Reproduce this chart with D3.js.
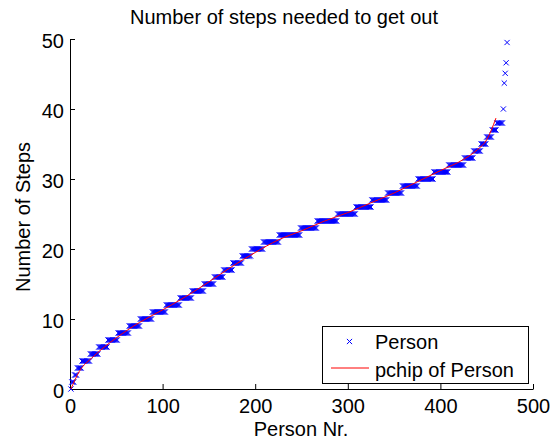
<!DOCTYPE html>
<html>
<head>
<meta charset="utf-8">
<script src="https://cdn.jsdelivr.net/npm/d3@7"></script>
<style>
  html, body { margin: 0; padding: 0; background: #fff; }
  svg { display: block; }
  text { font-family: "Liberation Sans", Arial, Helvetica, sans-serif; fill: #000; }
</style>
</head>
<body>
<svg id="chart" width="552" height="442"></svg>
<script>
// Step counts reached by the sorted persons: each level and how many persons share it
const stepLevels = [0, 1, 2, 3, 4, 5, 6, 7, 8, 9,
                    10, 11, 12, 13, 14, 15, 16, 17, 18, 19,
                    20, 21, 22, 23, 24, 25, 26, 27, 28, 29,
                    30, 31, 32, 33, 34, 35, 36, 37, 38,
                    40, 43.7, 45.1, 46.6, 49.5];
const personsPerLevel = [1, 3, 3, 5, 9, 9, 10, 11, 12, 12,
                         13, 15, 15, 13, 13, 11, 10, 10, 10, 10,
                         13, 17, 23, 18, 22, 20, 17, 17, 16, 17,
                         17, 16, 17, 10, 8, 6, 6, 5, 7,
                         1, 1, 1, 1, 1];

// Knots of the pchip curve fitted through the persons
const fitPerson = [1, 10, 25, 50, 75, 100, 125, 150, 175, 200, 225, 250, 275, 300, 325, 350, 375, 400, 425, 440, 450, 460];
const fitSteps  = [0, 2.5, 4.6, 7.3, 9.5, 11.3, 13.2, 15.3, 17.5, 19.5, 21.3, 22.6, 24, 25.2, 26.6, 28, 29.6, 31.2, 32.8, 34.2, 35.6, 38.7];

const xTicks = [0, 100, 200, 300, 400, 500];
const yTicks = [0, 10, 20, 30, 40, 50];

const titleText = "Number of steps needed to get out";
const xLabel = "Person Nr.";
const yLabel = "Number of Steps";
const legendLabels = ["Person", "pchip of Person"];

// Expand the level counts into one record per person (sorted order)
const persons = [];
stepLevels.forEach((lvl, i) => {
  for (let k = 0; k < personsPerLevel[i]; k++) {
    persons.push({ person: persons.length + 1, steps: lvl });
  }
});
const fit = fitPerson.map((p, i) => ({ person: p, steps: fitSteps[i] }));

const svg = d3.select("#chart");
const plot = { left: 70, right: 533, top: 39, bottom: 389 };

const x = d3.scaleLinear().domain([0, 500]).range([plot.left, plot.right]);
const y = d3.scaleLinear().domain([0, 50]).range([plot.bottom, plot.top]);

const FS = 20;
const RED = "#ff0000", BLUE = "#0000ff";

// Title
svg.append("text")
  .attr("x", 284).attr("y", 24)
  .attr("text-anchor", "middle")
  .style("font-size", FS + "px")
  .text(titleText);

// Axes (ticks point into the plot)
const xAxis = d3.axisBottom(x).tickValues(xTicks).tickSize(-5).tickPadding(10).tickSizeOuter(0);
const yAxis = d3.axisLeft(y).tickValues(yTicks).tickSize(-5).tickPadding(6).tickSizeOuter(0);

const gx = svg.append("g").attr("transform", `translate(0,${plot.bottom})`).call(xAxis);
const gy = svg.append("g").attr("transform", `translate(${plot.left},0)`).call(yAxis);

[gx, gy].forEach(g => {
  g.select(".domain").attr("stroke", "#000").attr("stroke-width", 1);
  g.selectAll(".tick line").attr("stroke", "#000").attr("stroke-width", 1);
  g.selectAll(".tick text")
    .style("font-size", FS + "px")
    .style("font-family", '"Liberation Sans", Arial, Helvetica, sans-serif')
    .attr("fill", "#000");
});
gx.selectAll(".tick text").attr("dy", "0.71em").attr("y", 10);
gy.selectAll(".tick text").attr("x", -6).attr("dy", "0.42em");

// Axis labels
svg.append("text")
  .attr("x", 301).attr("y", 436)
  .attr("text-anchor", "middle")
  .style("font-size", FS + "px")
  .text(xLabel);

svg.append("text")
  .attr("transform", "translate(29.5,217) rotate(-90)")
  .attr("text-anchor", "middle")
  .style("font-size", FS + "px")
  .text(yLabel);

// x markers for each person
const half = 2.6;
const crossAt = (cx, cy) =>
  `M${cx - half},${cy - half}L${cx + half},${cy + half}M${cx - half},${cy + half}L${cx + half},${cy - half}`;

svg.append("g")
  .selectAll("path")
  .data(persons)
  .join("path")
  .attr("d", d => crossAt(x(d.person), y(d.steps)))
  .style("stroke", BLUE)
  .style("stroke-width", 1)
  .style("fill", "none");

// pchip fit line
const fitLine = d3.line()
  .x(d => x(d.person))
  .y(d => y(d.steps))
  .curve(d3.curveMonotoneX);

svg.append("path")
  .datum(fit)
  .attr("d", fitLine)
  .style("fill", "none")
  .style("stroke", RED)
  .style("stroke-width", 1);

// Legend
const lg = svg.append("g");
lg.append("rect")
  .attr("x", 322.5).attr("y", 326.5)
  .attr("width", 206).attr("height", 57)
  .style("fill", "#fff").style("stroke", "#000").style("stroke-width", 1);

lg.append("path")
  .attr("d", crossAt(349.5, 341.5))
  .style("stroke", BLUE).style("stroke-width", 1).style("fill", "none");
lg.append("text")
  .attr("x", 375).attr("y", 349)
  .style("font-size", FS + "px")
  .text(legendLabels[0]);

lg.append("path")
  .attr("d", "M331,368H369")
  .style("fill", "none")
  .style("stroke", RED).style("stroke-width", 1);
lg.append("text")
  .attr("x", 375).attr("y", 376.5)
  .style("font-size", FS + "px")
  .text(legendLabels[1]);
</script>
</body>
</html>
